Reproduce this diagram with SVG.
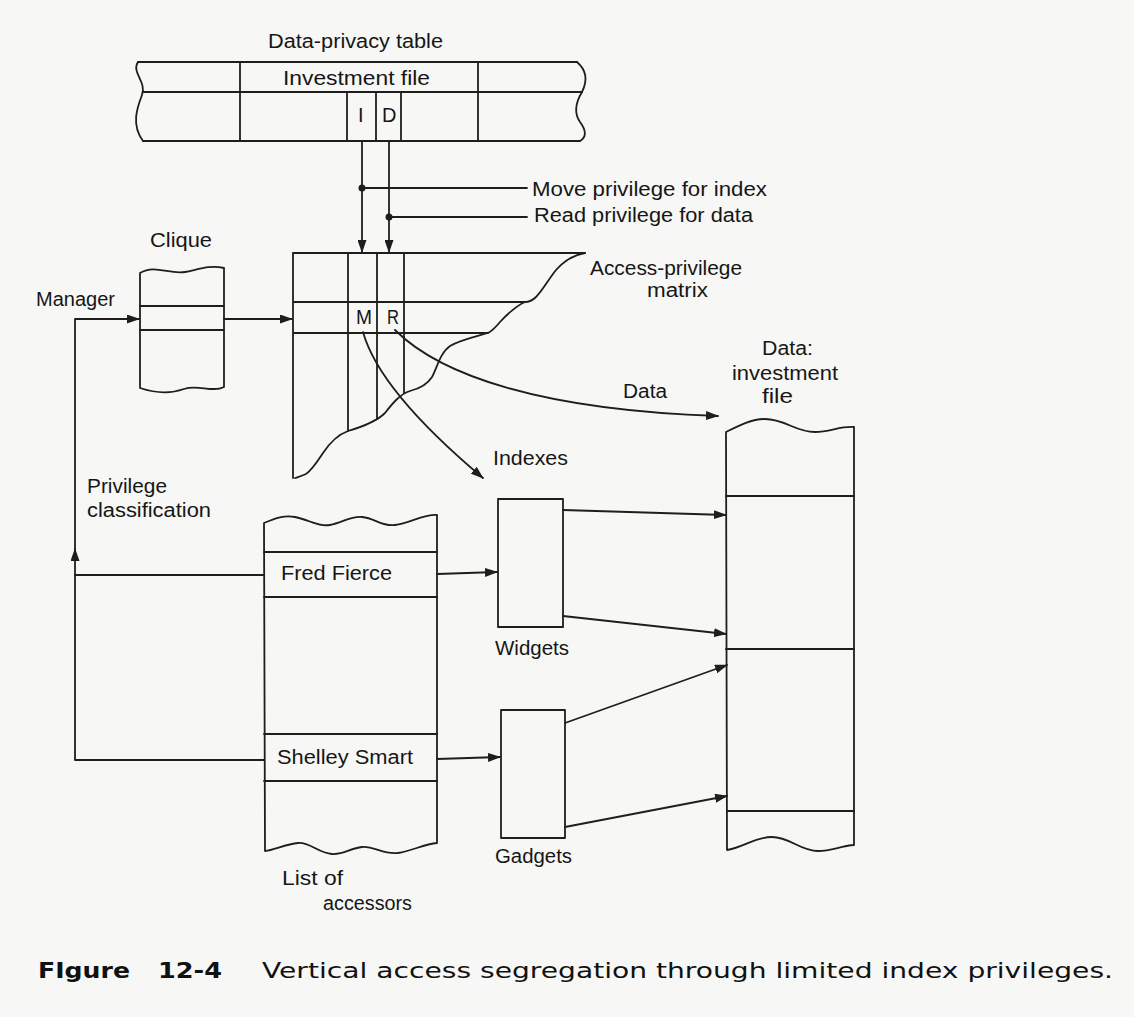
<svg xmlns="http://www.w3.org/2000/svg" width="1134" height="1017" viewBox="0 0 1134 1017">
<defs>
<style>
.ln{fill:none;stroke:#1e1e1e;stroke-width:1.8;stroke-linejoin:round;stroke-linecap:round}
.t{font-family:"Liberation Sans",Arial,sans-serif;font-size:20px;fill:#161616}
.cb{font-family:"DejaVu Sans","Liberation Sans",sans-serif;font-size:21px;font-weight:bold;fill:#111}
.cr{font-family:"DejaVu Sans","Liberation Sans",sans-serif;font-size:21px;fill:#111}
</style>
<marker id="ah" markerUnits="userSpaceOnUse" markerWidth="13" markerHeight="9" refX="12" refY="4.5" orient="auto">
<path d="M0,0 L13,4.5 L0,9 z" fill="#1e1e1e"/>
</marker>
</defs>
<rect width="1134" height="1017" fill="#f7f7f5"/>

<g id="data-privacy-table">
<text class="t" x="268" y="48" textLength="175" lengthAdjust="spacingAndGlyphs">Data-privacy table</text>
<path class="ln" d="M138,62 H577 M143,92 H582 M143,141 H580"/>
<path class="ln" d="M138,62 C131,72 147,82 142,95 C137,108 131,125 143,141"/>
<path class="ln" d="M577,62 C584,68 589,78 582,92 C576,102 573,112 580,122 C586,130 587,137 580,141"/>
<path class="ln" d="M240,62 V141 M478,62 V141 M347,92 V141 M376,92 V141 M401,92 V141"/>
<text class="t" x="283" y="85" textLength="147" lengthAdjust="spacingAndGlyphs">Investment file</text>
<text class="t" x="358" y="122">I</text>
<text class="t" x="382" y="122">D</text>
</g>

<g id="access-privilege-matrix">
<path class="ln" d="M293,253 H585 M293,253 V478 M293,302 H525 M293,333 H488 M348,253 V431 M377,253 V419 M404,253 V393"/>
<path class="ln" d="M585,253 C574,255 563,262 556,270 C548,280 543,290 536,297 C532,301 529,302 525,302 C518,305 507,314 500,322 C495,328 492,331 488,333 C478,336 460,340 450,346 C440,353 437,368 432,377 C427,385 418,389 410,391 C400,394 392,404 385,413 C377,421 365,426 348,431 C337,435 329,444 323,453 C317,462 312,470 306,474 C302,476 298,477 295,478"/>
<text class="t" x="356" y="324" textLength="16" lengthAdjust="spacingAndGlyphs">M</text>
<text class="t" x="387" y="324" textLength="12" lengthAdjust="spacingAndGlyphs">R</text>
<text class="t" x="590" y="275" textLength="152" lengthAdjust="spacingAndGlyphs">Access-privilege</text>
<text class="t" x="647" y="297" textLength="61" lengthAdjust="spacingAndGlyphs">matrix</text>
</g>

<g id="clique">
<text class="t" x="150" y="247" textLength="62" lengthAdjust="spacingAndGlyphs">Clique</text>
<path class="ln" d="M140,273 C155,264 170,275 185,272 C200,269 210,265 224,268 V387 C212,393 198,384 184,389 C170,394 155,393 140,388 Z"/>
<path class="ln" d="M140,306 H224 M140,330 H224"/>
</g>

<g id="list-of-accessors">
<path class="ln" d="M264,523 C276,518 284,515 295,517 C310,520 318,527 330,525 C342,523 350,516 362,517 C375,518 382,527 395,525 C410,523 424,514 437,515 V843 C424,844 412,851 398,853 C384,855 374,846 362,847 C350,848 344,855 332,854 C318,853 310,842 298,843 C286,844 274,850 265,851 Z"/>
<path class="ln" d="M264,552 H437 M264,597 H437 M264,734 H437 M264,781 H437"/>
<text class="t" x="281" y="580" textLength="111" lengthAdjust="spacingAndGlyphs">Fred Fierce</text>
<text class="t" x="277" y="764" textLength="136" lengthAdjust="spacingAndGlyphs">Shelley Smart</text>
<text class="t" x="282" y="885" textLength="61" lengthAdjust="spacingAndGlyphs">List of</text>
<text class="t" x="323" y="910" textLength="89" lengthAdjust="spacingAndGlyphs">accessors</text>
</g>

<g id="widgets">
<rect class="ln" x="498" y="499" width="65" height="128"/>
<text class="t" x="495" y="655" textLength="74" lengthAdjust="spacingAndGlyphs">Widgets</text>
</g>

<g id="gadgets">
<rect class="ln" x="501" y="710" width="64" height="128"/>
<text class="t" x="495" y="863" textLength="77" lengthAdjust="spacingAndGlyphs">Gadgets</text>
</g>

<g id="data-investment-file">
<text class="t" x="762" y="355" textLength="51" lengthAdjust="spacingAndGlyphs">Data:</text>
<text class="t" x="732" y="380" textLength="106" lengthAdjust="spacingAndGlyphs">investment</text>
<text class="t" x="762" y="403" textLength="31" lengthAdjust="spacingAndGlyphs">file</text>
<path class="ln" d="M726,432 C740,425 752,419 765,419 C785,419 795,432 815,432 C830,432 840,426 854,427 V845 C840,846 832,851 818,851 C800,851 790,837 772,837 C755,837 742,848 727,850 Z"/>
<path class="ln" d="M726,496 H854 M726,649 H854 M727,811 H854"/>
</g>

<g id="labels">
<text class="t" x="532" y="196" textLength="235" lengthAdjust="spacingAndGlyphs">Move privilege for index</text>
<text class="t" x="534" y="222" textLength="219" lengthAdjust="spacingAndGlyphs">Read privilege for data</text>
<text class="t" x="36" y="306" textLength="79" lengthAdjust="spacingAndGlyphs">Manager</text>
<text class="t" x="87" y="493" textLength="80" lengthAdjust="spacingAndGlyphs">Privilege</text>
<text class="t" x="87" y="517" textLength="124" lengthAdjust="spacingAndGlyphs">classification</text>
<text class="t" x="493" y="465" textLength="75" lengthAdjust="spacingAndGlyphs">Indexes</text>
<text class="t" x="623" y="398" textLength="44" lengthAdjust="spacingAndGlyphs">Data</text>
</g>

<g id="connectors">
<path class="ln" d="M362,141 V252" marker-end="url(#ah)"/>
<path class="ln" d="M389,141 V252" marker-end="url(#ah)"/>
<circle cx="362" cy="188" r="3.5" fill="#1e1e1e"/>
<circle cx="389" cy="217" r="3.5" fill="#1e1e1e"/>
<path class="ln" d="M362,188 H527 M389,217 H527"/>
<path class="ln" d="M264,760 H75 V549" marker-end="url(#ah)"/>
<path class="ln" d="M75,555 V319 H139" marker-end="url(#ah)"/>
<path class="ln" d="M264,575 H75"/>
<path class="ln" d="M224,319 H292" marker-end="url(#ah)"/>
<path class="ln" d="M363,332 C375,375 420,425 483,478" marker-end="url(#ah)"/>
<path class="ln" d="M395,330 C440,375 540,410 718,416" marker-end="url(#ah)"/>
<path class="ln" d="M437,574 L497,572" marker-end="url(#ah)"/>
<path class="ln" d="M437,759 L500,757" marker-end="url(#ah)"/>
<path class="ln" d="M563,510 L726,515" marker-end="url(#ah)"/>
<path class="ln" d="M563,616 L726,634" marker-end="url(#ah)"/>
<path class="ln" d="M565,723 L727,665" marker-end="url(#ah)"/>
<path class="ln" d="M565,827 L727,796" marker-end="url(#ah)"/>
</g>

<g id="caption">
<text class="cb" x="38" y="978" textLength="92" lengthAdjust="spacingAndGlyphs">FIgure</text>
<text class="cb" x="158" y="978" textLength="64" lengthAdjust="spacingAndGlyphs">12-4</text>
<text class="cr" x="262" y="978" textLength="851" lengthAdjust="spacingAndGlyphs">Vertical access segregation through limited index privileges.</text>
</g>
</svg>
